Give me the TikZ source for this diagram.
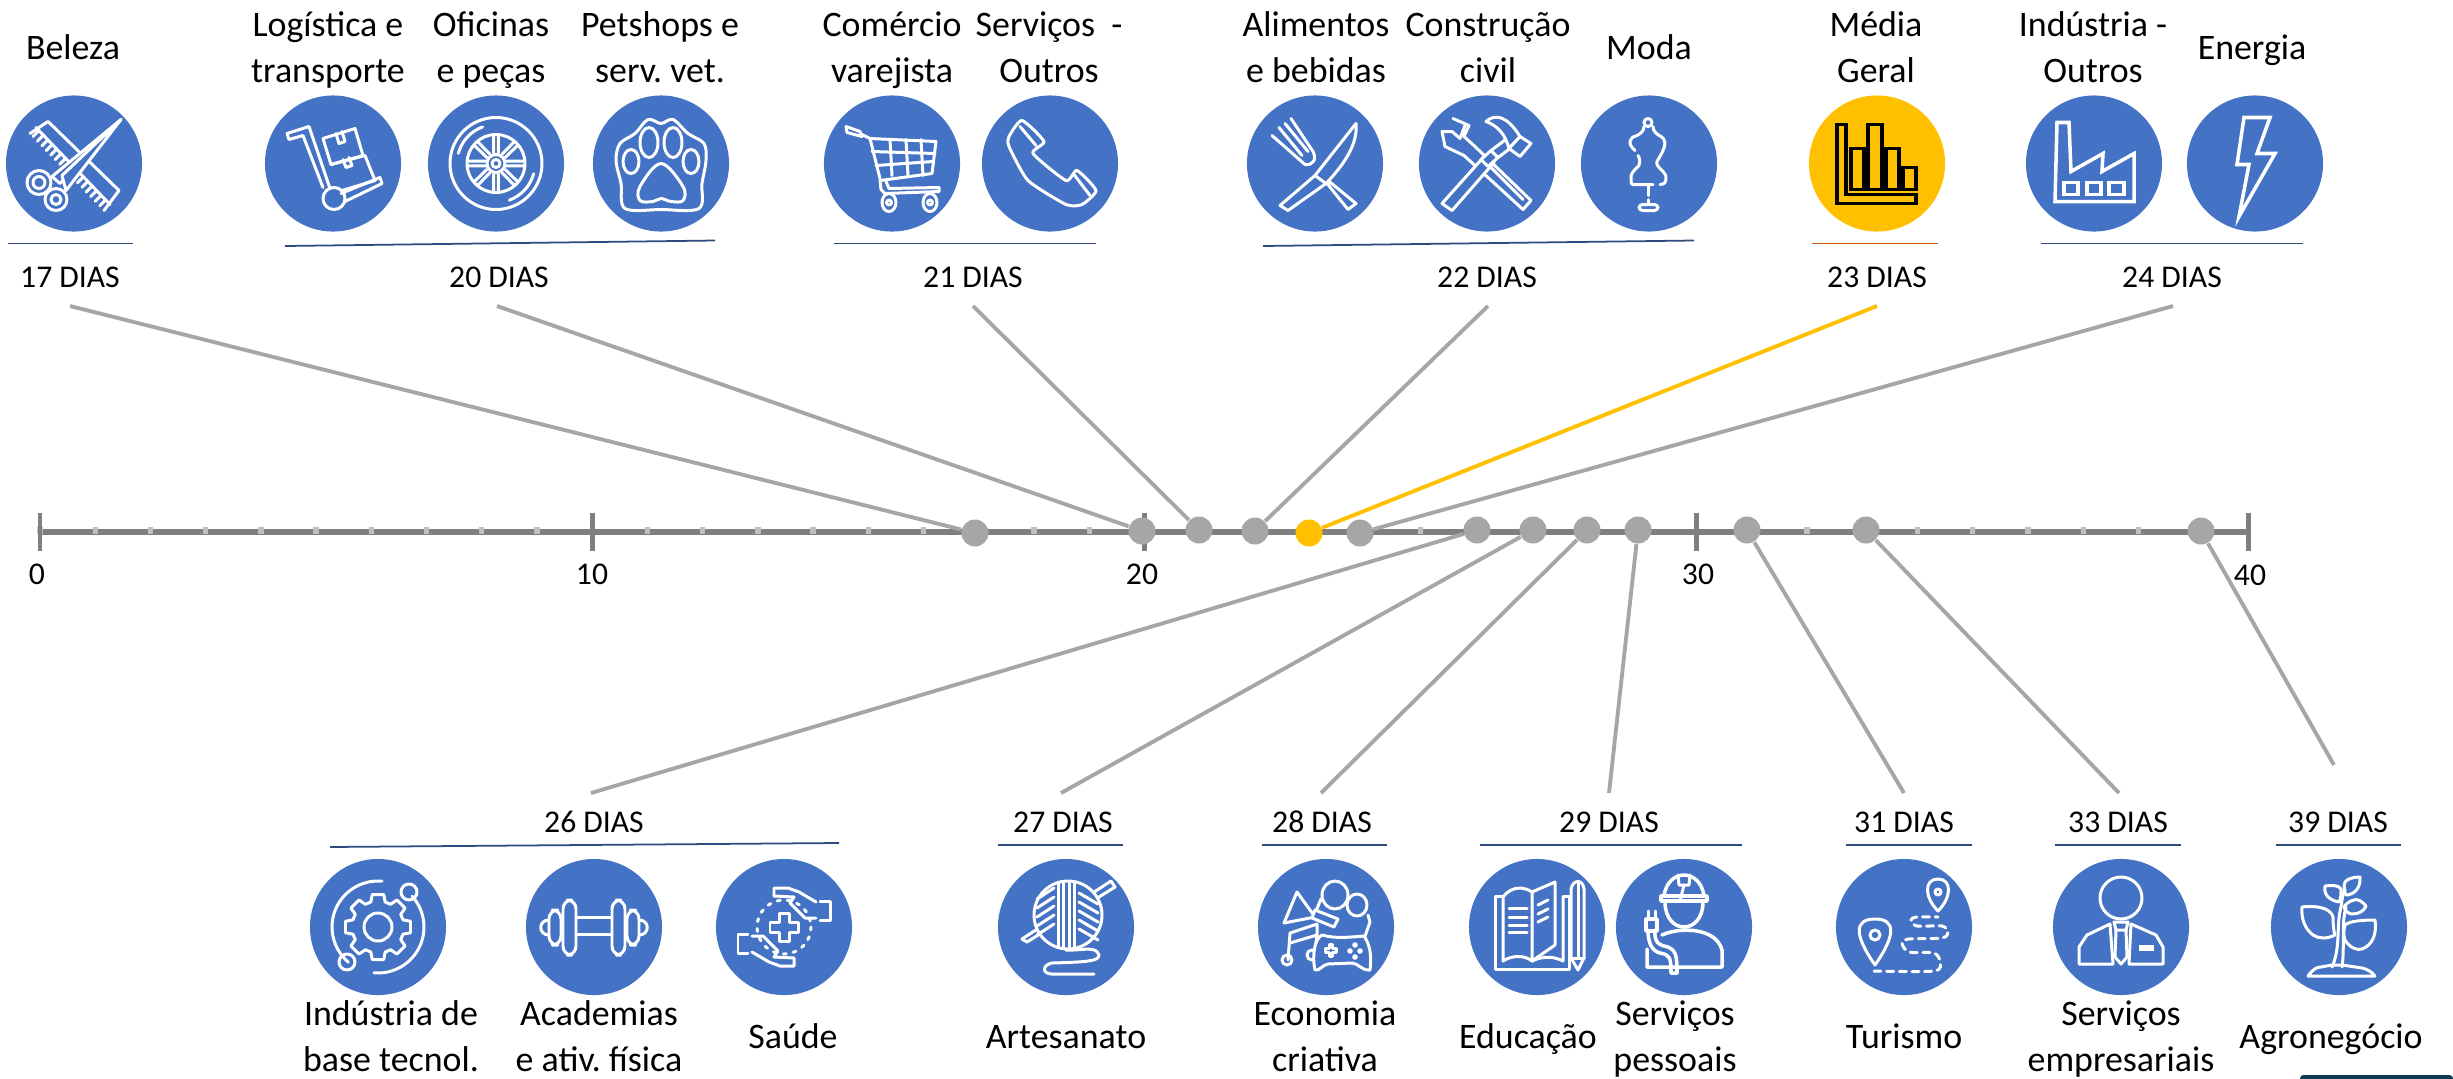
\documentclass[tikz,border=0pt]{standalone}
\usepackage{fontspec}
\setmainfont{Carlito}
\frenchspacing
\definecolor{iconblue}{HTML}{4472C4}
\definecolor{goldy}{HTML}{FFC000}
\definecolor{axisgrey}{HTML}{7F7F7F}
\definecolor{tickgrey}{HTML}{BFBFBF}
\definecolor{linkgrey}{HTML}{A6A6A6}
\definecolor{rulenavy}{HTML}{2F4A7C}
\definecolor{ruleorange}{HTML}{C55A11}
\definecolor{cornerteal}{HTML}{0F3B52}
\tikzset{
	icondisc/.style = {circle, fill = iconblue, minimum size = 1.36cm, inner sep = 0pt},
	dot/.style = {circle, fill = linkgrey, minimum size = 0.27cm, inner sep = 0pt},
	namelabel/.style = {align = center, inner sep = 0pt, font = \fontsize{10.2}{13}\selectfont},
	dayslabel/.style = {inner sep = 0pt, font = \fontsize{9}{11}\selectfont},
	ticklabel/.style = {inner sep = 0pt, font = \fontsize{9}{11}\selectfont},
	link/.style = {linkgrey, line width = 1.1pt},
	dayrule/.style = {rulenavy, line width = 0.5pt},
	icoline/.style = {white, line width = 0.85pt, line join = round, line cap = round},
	icofill/.style = {icoline, fill = iconblue},
	% icons, coordinates measured from the centre of the disc
	pics/comb/.style = {code = {
		\draw[icoline] (-44,-30) -- (-26,-42) -- (45,27) -- (30,47);
		\draw[icoline] (-38,-36) -- (36,41);
		\foreach \t in {0.04,0.1,...,1}
			\draw[icoline] ({-44+74*\t},{-30+77*\t}) -- ++(6,-6);
		\draw[icofill] (47,-44) -- (-22,13) -- (-14,20) -- cycle;
		\draw[icofill] (47,-44) -- (-12,12) -- (-8,27) -- cycle;
		\draw[icofill] (-35,19) circle (12);
		\draw[icoline] (-35,19) circle (6);
		\draw[icofill] (-18,36) circle (11);
		\draw[icoline] (-18,36) circle (5);
	}},
	pics/trolley/.style = {code = {
		\draw[icoline] (-46,-30) -- (-24,-37) -- (-3,25);
		\draw[icoline] (-46,-30) -- (-44,-24) -- (-30,-28) -- (-10,24);
		\draw[icoline] (-10,-25) -- (22,-35) -- (30,-8) -- (-2,1) -- cycle;
		\draw[icoline] (-2,1) -- (32,-8) -- (42,17) -- (9,27);
		\draw[icoline] (3,-30) -- (6,-20) -- (12,-22) -- (9,-32);
		\draw[icoline] (10,-4) -- (13,4) -- (19,2) -- (16,-6);
		\draw[icoline] (8,30) -- (47,14) -- (49,20) -- (12,38);
		\draw[icoline] (1,35) circle (11);
	}},
	pics/tyre/.style = {code = {
		\draw[icoline] (0,0) circle (46);
		\draw[icoline] (0,0) circle (29);
		\draw[icoline] (0,0) circle (9);
		\draw[icoline] (0,0) circle (4);
		\foreach \a in {0,45,...,315} {
			\draw[icoline] ({\a+12}:11) -- ({\a+5}:28);
			\draw[icoline] ({\a-12}:11) -- ({\a-5}:28);
		}
		\draw[icoline] (195:39) arc (195:250:39);
		\draw[icoline] (15:39) arc (15:70:39);
	}},
	pics/paw/.style = {code = {
		\draw[icoline] plot[smooth cycle, tension = 0.55] coordinates {(-36,45) (-40,20) (-45,-3) (-41,-20) (-26,-30) (-13,-44) (0,-40) (12,-44) (27,-30) (43,-20) (45,-3) (41,20) (38,45) (0,46)};
		\draw[icoline] (-30,-2) ellipse (8 and 12);
		\draw[icoline] (-12,-21) ellipse (9 and 15);
		\draw[icoline] (12,-21) ellipse (9 and 15);
		\draw[icoline] (30,-2) ellipse (8 and 12);
		\draw[icoline] plot[smooth cycle, tension = 0.6] coordinates {(0,0) (-21,23) (-21,37) (-8,38) (0,35) (10,38) (22,37) (22,23)};
	}},
	pics/cart/.style = {code = {
		\draw[icoline] (-46,-37) -- (-32,-32) -- (-30,-27) -- (-45,-31) -- cycle;
		\draw[icoline] (-30,-29) -- (-22,-25) -- (-12,15);
		\draw[icoline] (-22,-25) -- (44,-22) -- (40,10) -- (-12,17);
		\draw[icoline] (-20,-12) -- (43,-10);
		\draw[icoline] (-16,2) -- (41,-2);
		\foreach \x in {-2,14,29}
			\draw[icoline] (\x,-24) -- ({\x+2},12);
		\draw[icoline] (-12,17) -- (-11,26) -- (-7,30) -- (47,28) -- (47,24) -- (-3,25) -- (-6,18);
		\draw[icoline] (-3,39) ellipse (7 and 9);
		\draw[icoline] (-3,39) circle (2.5);
		\draw[icoline] (38,39) ellipse (7 and 9);
		\draw[icoline] (38,39) circle (2.5);
	}},
	pics/phone/.style = {code = {
		\draw[icoline] plot[smooth cycle, tension = 0.35] coordinates {(-41,-27) (-28,-43) (-6,-22) (-17,-10) (16,17) (27,7) (46,27) (32,41) (16,41) (-22,17) (-41,-17)};
		\draw[icoline] (-30,-37) -- (-14,-18);
		\draw[icoline] (24,11) -- (40,32);
	}},
	pics/cutlery/.style = {code = {
		\draw[icoline] (-24,-45) -- (-2,-12) .. controls (2,-4) and (-2,2) .. (-10,1) -- (-43,-28);
		\draw[icoline] (-36,-36) -- (-13,-8);
		\draw[icoline] (-30,-40) -- (-7,-12);
		\draw[icoline] (13,17) -- (41,40) -- (33,46) -- (4,10);
		\draw[icofill] (41,-40) -- (0,12) -- (-35,42) -- (-27,47) -- (11,20) .. controls (30,0) and (43,-20) .. (41,-40) -- cycle;
		\draw[icoline] (0,12) -- (11,20);
	}},
	pics/tools/.style = {code = {
		\draw[icoline] (-34,-45) -- (-18,-38) -- (-23,-27) -- (-12,-17) -- (44,37) -- (36,46) -- (-23,-8) -- (-42,-17) -- (-45,-32) -- (-35,-32) -- (-27,-25) -- (-22,-38);
		\draw[icoline] (0,0) -- (36,36);
		\draw[icofill] (-45,40) -- (-2,-8) -- (7,-1) -- (-35,47) -- cycle;
		\draw[icofill] (-6,-4) -- (4,-13) -- (11,-6) -- (1,3) -- cycle;
		\draw[icofill] (4,-13) -- (20,-25) -- (27,-18) -- (11,-6) -- cycle;
		\draw[icofill] (-1,-42) .. controls (8,-50) and (20,-48) .. (33,-27) -- (22,-15) .. controls (18,-30) and (10,-38) .. (-1,-42) -- cycle;
		\draw[icofill] (33,-27) -- (44,-20) -- (33,-7) -- (22,-15) -- cycle;
	}},
	pics/mannequin/.style = {code = {
		\draw[icoline] (-1,-41) circle (4);
		\draw[icoline] (-14,-13) .. controls (-22,-20) and (-20,-26) .. (-12,-28) .. controls (-8,-30) and (-5,-33) .. (-5,-37);
		\draw[icoline] (4,-37) .. controls (4,-32) and (8,-29) .. (12,-27) .. controls (20,-22) and (14,-12) .. (8,-2) .. controls (6,4) and (18,8) .. (17,15) .. controls (17,19) and (15,21) .. (11,21);
		\draw[icoline] (-11,-8) .. controls (-8,-4) and (-10,0) .. (-10,2) .. controls (-14,6) and (-19,10) .. (-18,15) .. controls (-18,21) and (-17,21) .. (-16,21) -- (4,21);
		\draw[icoline] (-1,22) -- (-1,32);
		\draw[icoline] (-1,36) -- (-1,41);
		\draw[icoline, rounded corners = 1pt] (-10,41) -- (9,41) -- (9,47) -- (-10,47) -- cycle;
	}},
	pics/barchart/.style = {code = {
		\begin{scope}[black, line width = 1.1pt]
		\draw (-40,-39) -- (-31,-39) -- (-31,31) -- (39,31) -- (39,40) -- (-40,40) -- cycle;
		\draw (-26,-15) rectangle (-13,26);
		\draw (-9,-39) rectangle (5,26);
		\draw (9,-15) rectangle (22,26);
		\draw (26,4) rectangle (39,26);
		\end{scope}
	}},
	pics/factory/.style = {code = {
		\begin{scope}[white, line width = 1pt]
		\draw (-39,38) -- (-37,-41) -- (-25,-41) -- (-23,8) -- (9,-10) -- (8,8) -- (40,-10) -- (40,38) -- cycle;
		\draw (-30,19) rectangle (-16,31);
		\draw (-7,19) rectangle (7,31);
		\draw (15,19) rectangle (30,31);
		\end{scope}
	}},
	pics/bolt/.style = {code = {
		\draw[white, line width = 1pt] (-11,-46) -- (15,-46) -- (2,-10) -- (20,-10) -- (-16,53) -- (-6,1) -- (-18,1) -- cycle;
	}},
	pics/gear/.style = {code = {
		\draw[icoline] (0,0) circle (14);
		\foreach \a in {0,45,...,315}
			\draw[icoline] ({\a-16}:26) -- ({\a-10}:33) -- ({\a+10}:33) -- ({\a+16}:26) -- ({\a+29}:26);
		\draw[icoline] (275:46) arc (275:130:46);
		\draw[icoline] (95:46) arc (95:-42:46);
		\draw[icoline] (31,-35) circle (8);
		\draw[icoline] (-31,35) circle (8);
	}},
	pics/dumbbell/.style = {code = {
		\draw[icoline, rounded corners = 2.5pt] (-31,-27) rectangle (-18,28);
		\draw[icoline, rounded corners = 2.5pt] (18,-27) rectangle (31,28);
		\draw[icoline, rounded corners = 2.5pt] (-45,-17) rectangle (-33,18);
		\draw[icoline, rounded corners = 2.5pt] (33,-17) rectangle (45,18);
		\draw[icoline] (-18,-10) -- (18,-10);
		\draw[icoline] (-18,7) -- (18,7);
		\draw[icoline] (-45,-7) .. controls (-56,-7) and (-56,8) .. (-45,8);
		\draw[icoline] (45,-7) .. controls (56,-7) and (56,8) .. (45,8);
	}},
	pics/carehands/.style = {code = {
		\draw[icoline] (-5,-14) -- (5,-14) -- (5,-5) -- (14,-5) -- (14,5) -- (5,5) -- (5,14) -- (-5,14) -- (-5,5) -- (-14,5) -- (-14,-5) -- (-5,-5) -- cycle;
		\draw[icoline, dotted] (0,0) circle (27);
		\foreach \r in {0,180} {
			\begin{scope}[rotate = \r]
			\draw[icoline] (-10,-31) -- (-10,-39) -- (4,-39) -- (15,-35) -- (32,-25);
			\draw[icoline] (-10,-31) -- (10,-30) -- (6,-24) -- (21,-9) -- (32,-9);
			\draw[icoline] (36,-26) -- (46,-26) -- (46,-7) -- (36,-7);
			\end{scope}
		}
	}},
	pics/yarn/.style = {code = {
		\draw[icoline] (45,-46) -- (49,-40) -- (-39,15) -- (-44,12) -- cycle;
		\draw[icofill] (2,-12) circle (34);
		\foreach \x in {-8,-3,3,8}
			\draw[icoline] (\x,-44) -- (\x,20);
		\foreach \y in {-30,-21,-12,-3,6} {
			\draw[icoline] (-29,{\y+2}) -- (-12,{\y-9});
			\draw[icoline] (13,{\y-4}) -- (32,{\y+7});
		}
		\draw[icoline] (0,23) .. controls (15,24) and (30,18) .. (33,28) .. controls (33,34) and (22,35) .. (-14,36) .. controls (-24,38) and (-24,47) .. (-14,47) -- (28,47);
	}},
	pics/mediakit/.style = {code = {
		\draw[icoline] (9,-32) ellipse (13 and 14);
		\draw[icoline] (31,-22) ellipse (10 and 11);
		\draw[icoline] (-42,-4) -- (-29,-35) -- (-11,-10) -- cycle;
		\draw[icoline] (-10,-16) -- (-5,-28);
		\draw[icoline] (42,-12) -- (44,-5) -- (38,12);
		\draw[icofill] (-11,-17) -- (12,-8) -- (8,0) -- (-14,-9) -- cycle;
		\draw[icoline] (-38,33) -- (-36,6) -- (-9,-3) -- (-9,8) -- (-36,16);
		\draw[icoline] (-39,33) circle (5);
		\draw[icoline] (-14,28) circle (5);
		\draw[icoline] (-9,8) -- (-11,24);
		\draw[icofill] (-4,8) .. controls (10,12) and (25,10) .. (38,9) .. controls (46,20) and (45,35) .. (44,43) .. controls (36,44) and (32,36) .. (26,36) -- (2,37) .. controls (-4,38) and (-6,44) .. (-11,43) .. controls (-14,30) and (-12,12) .. (-4,8) -- cycle;
		\draw[icoline] (-1,21) -- (3,21) -- (3,17) -- (6,17) -- (6,21) -- (10,21) -- (10,25) -- (6,25) -- (6,29) -- (3,29) -- (3,25) -- (-1,25) -- cycle;
		\draw[icoline, fill = white] (29,18) circle (1.5);
		\draw[icoline, fill = white] (24,24) circle (1.5);
		\draw[icoline, fill = white] (34,24) circle (1.5);
		\draw[icoline, fill = white] (29,30) circle (1.5);
	}},
	pics/openbook/.style = {code = {
		\draw[icoline] (-34,-31) -- (-42,-31) -- (-42,42) -- (32,42) -- (32,-31) -- (26,-31);
		\draw[icoline] (-34,34) -- (-34,-30) .. controls (-25,-42) and (-12,-40) .. (-5,-35) -- (-5,34) .. controls (-12,28) and (-25,28) .. (-34,34) -- cycle;
		\draw[icoline] (-5,-35) -- (18,-45) -- (18,18) -- (-5,34);
		\draw[icoline] (-5,34) .. controls (8,28) and (18,30) .. (26,34) -- (26,-30);
		\foreach \y in {-19,-10,-2,5}
			\draw[icoline] (-28,\y) -- (-10,\y);
		\foreach \y in {-22,-13,-5}
			\draw[icoline] (1,\y) -- (11,{\y-5});
		\draw[icofill] (34,-38) .. controls (36,-48) and (46,-48) .. (47,-38) -- (47,31) -- (41,43) -- (34,31) -- cycle;
		\draw[icoline] (34,31) -- (47,31);
		\draw[icoline] (41,-44) -- (41,30);
	}},
	pics/worker/.style = {code = {
		\draw[icoline, line width = 1pt] (-20,-31) .. controls (-18,-46) and (-8,-52) .. (0,-52) .. controls (8,-52) and (18,-46) .. (20,-31);
		\draw[icoline, line width = 1pt] (-23,-31) -- (23,-31) -- (23,-26) -- (-23,-26) -- cycle;
		\draw[icoline] (-6,-52) -- (-5,-42) -- (5,-42) -- (6,-52);
		\draw[icoline] (0,-42) -- (-4,-26);
		\draw[icoline, line width = 1pt] (-19,-25) .. controls (-19,-8) and (-9,0) .. (0,0) .. controls (9,0) and (19,-8) .. (19,-25);
		\draw[icoline, line width = 1pt] (-22,8) .. controls (-5,0) and (32,0) .. (38,23) -- (38,40) -- (-37,40) -- (-37,22);
		\draw[icoline, line width = 1pt] (-29,3) .. controls (-30,16) and (-25,18) .. (-16,20) .. controls (-8,24) and (-7,28) .. (-7,46) -- (-13,46) .. controls (-13,30) and (-14,28) .. (-24,26) .. controls (-32,24) and (-36,16) .. (-36,3);
		\draw[icoline, line width = 1pt] (-38,-8) -- (-38,4) -- (-27,4) -- (-27,-8) -- cycle;
		\draw[icoline] (-36,-8) -- (-36,-16);
		\draw[icoline] (-29,-8) -- (-29,-16);
	}},
	pics/route/.style = {code = {
		\draw[icoline] (-29,38) .. controls (-50,8) and (-50,-8) .. (-29,-8) .. controls (-8,-8) and (-8,8) .. (-29,38) -- cycle;
		\draw[icoline] (-29,8) circle (5);
		\draw[icoline] (34,-16) .. controls (20,-30) and (20,-48) .. (34,-48) .. controls (48,-48) and (48,-30) .. (34,-16) -- cycle;
		\draw[icoline] (34,-35) circle (3);
		\draw[icoline, dashed, dash pattern = on 2pt off 1.6pt] plot[smooth, tension = 0.5] coordinates {(-30,44) (30,44) (36,35) (30,26) (5,25) (-2,16) (5,12) (38,11) (44,5) (38,-1) (13,-1) (7,-7) (13,-10) (34,-10)};
	}},
	pics/suit/.style = {code = {
		\draw[icoline] (0,-29) circle (21);
		\draw[icoline] (-11,-3) -- (-34,8) -- (-42,20) -- (-42,37) -- (-8,37) -- cycle;
		\draw[icoline] (10,-3) -- (35,8) -- (42,20) -- (42,37) -- (8,37) -- cycle;
		\draw[icoline] (-7,-5) -- (7,-5) -- (5,3) -- (-5,3) -- cycle;
		\draw[icoline] (-5,3) -- (-6,30) -- (0,37) -- (6,30) -- (5,3);
		\fill[white] (18,18) rectangle (33,24);
	}},
	pics/sprout/.style = {code = {
		\draw[icoline] (-7,40) .. controls (2,20) and (-3,-2) .. (2,-20) .. controls (3,-28) and (4,-34) .. (6,-38);
		\draw[icoline] (3,40) .. controls (6,20) and (2,-2) .. (7,-20);
		\draw[icoline] (-37,-20) .. controls (-20,-22) and (-8,-18) .. (-6,-10) .. controls (-6,-2) and (-5,6) .. (-4,8) .. controls (-12,12) and (-20,12) .. (-26,8) .. controls (-34,2) and (-38,-8) .. (-37,-20) -- cycle;
		\draw[icoline] (36,-7) .. controls (24,-7) and (10,-6) .. (6,-2) .. controls (4,6) and (5,10) .. (6,13) .. controls (10,20) and (18,24) .. (23,22) .. controls (34,18) and (38,6) .. (36,-7) -- cycle;
		\draw[icoline] (-14,-41) .. controls (-8,-42) and (0,-42) .. (2,-38) .. controls (2,-34) and (2,-28) .. (0,-25) .. controls (-6,-26) and (-16,-30) .. (-14,-41) -- cycle;
		\draw[icoline] (21,-50) .. controls (14,-50) and (8,-48) .. (6,-45) .. controls (4,-40) and (6,-34) .. (7,-32) .. controls (12,-32) and (22,-36) .. (21,-50) -- cycle;
		\draw[icoline] (27,-21) .. controls (22,-27) and (18,-28) .. (15,-27) .. controls (10,-26) and (6,-22) .. (5,-20) .. controls (6,-16) and (10,-13) .. (13,-13) .. controls (20,-13) and (25,-16) .. (27,-21) -- cycle;
		\draw[icoline] (-31,49) .. controls (-26,42) and (-22,40) .. (-18,40) -- (-7,38) -- (3,38) -- (23,41) .. controls (28,42) and (33,45) .. (36,49) -- cycle;
	}}
}
\begin{document}
\begin{tikzpicture}[x = 0.01cm, y = -0.01cm]
	\useasboundingbox (0,0) rectangle (2453,1078);
	% axis
	\draw[axisgrey, line width = 1.7pt] (40,532) -- (2249,532);
	\foreach \t in {0,1,...,40}
		\draw[tickgrey, line width = 1.5pt] ({40+55.22*\t},527) -- ({40+55.22*\t},534);
	\foreach \t in {0,10,...,40}
		\draw[axisgrey, line width = 1.4pt] ({40+55.22*\t},513) -- ({40+55.22*\t},551);
	\node[ticklabel] (n0) at (37,574) {0};
	\node[ticklabel] (n10) at (592,574) {10};
	\node[ticklabel] (n20) at (1142,574) {20};
	\node[ticklabel] (n30) at (1698,574) {30};
	\node[ticklabel] (n40) at (2250,575) {40};
	% day markers
	\node[dot] (d17) at (975,533) {};
	\node[dot] (d20) at (1142,531) {};
	\node[dot] (d21) at (1199,530) {};
	\node[dot] (d22) at (1255,531) {};
	\node[dot, fill = goldy] (d23) at (1309,533) {};
	\node[dot] (d24) at (1360,533) {};
	\node[dot] (d26) at (1477,530) {};
	\node[dot] (d27) at (1533,530) {};
	\node[dot] (d28) at (1587,530) {};
	\node[dot] (d29) at (1638,530) {};
	\node[dot] (d31) at (1747,530) {};
	\node[dot] (d33) at (1866,530) {};
	\node[dot] (d39) at (2201,531) {};
	% free ends of the links
	\coordinate (c17) at (70,306);
	\coordinate (c20) at (497,306);
	\coordinate (c21) at (973,306);
	\coordinate (c22) at (1488,306);
	\coordinate (c23) at (1877,306);
	\coordinate (c24) at (2173,306);
	\coordinate (c26) at (591,793);
	\coordinate (c27) at (1061,793);
	\coordinate (c28) at (1321,793);
	\coordinate (c29) at (1609,793);
	\coordinate (c31) at (1904,793);
	\coordinate (c33) at (2119,793);
	\coordinate (c39) at (2334,765);
	\foreach \k in {17,20,21,22,24,26,27,28,29,31,33,39}
		\draw[link] (c\k) -- (d\k);
	\draw[goldy, line width = 1.1pt] (c23) -- (d23);
	% top row
	\node[icondisc] (beleza) at (74,163.5) {};
	\node[icondisc] (logistica) at (333,163.5) {};
	\node[icondisc] (oficinas) at (496,163.5) {};
	\node[icondisc] (petshops) at (661,163.5) {};
	\node[icondisc] (comercio) at (892,163.5) {};
	\node[icondisc] (servicos) at (1050,163.5) {};
	\node[icondisc] (alimentos) at (1315,163.5) {};
	\node[icondisc] (construcao) at (1487,163.5) {};
	\node[icondisc] (moda) at (1649,163.5) {};
	\node[icondisc, fill = goldy] (media) at (1877,163.5) {};
	\node[icondisc] (industria) at (2094,163.5) {};
	\node[icondisc] (energia) at (2255,163.5) {};
	\pic at (beleza) {comb};
	\pic at (logistica) {trolley};
	\pic at (oficinas) {tyre};
	\pic at (petshops) {paw};
	\pic at (comercio) {cart};
	\pic at (servicos) {phone};
	\pic at (alimentos) {cutlery};
	\pic at (construcao) {tools};
	\pic at (moda) {mannequin};
	\pic at (media) {barchart};
	\pic at (industria) {factory};
	\pic at (energia) {bolt};
	\node[namelabel] (tbeleza) at (73,50) {\strut Beleza};
	\node[namelabel] (tlogistica) at (328,50) {\strut Logística e\\\strut transporte};
	\node[namelabel] (toficinas) at (491,50) {\strut Oficinas\\\strut e peças};
	\node[namelabel] (tpetshops) at (660,50) {\strut Petshops e\\\strut serv. vet.};
	\node[namelabel] (tcomercio) at (892,50) {\strut Comércio\\\strut varejista};
	\node[namelabel] (tservicos) at (1049,50) {\strut Serviços~~-\\\strut Outros};
	\node[namelabel] (talimentos) at (1316,50) {\strut Alimentos\\\strut e bebidas};
	\node[namelabel] (tconstrucao) at (1488,50) {\strut Construção\\\strut civil};
	\node[namelabel] (tmoda) at (1649,50) {\strut Moda};
	\node[namelabel] (tmedia) at (1876,50) {\strut Média\\\strut Geral};
	\node[namelabel] (tindustria) at (2093,50) {\strut Indústria -\\\strut Outros};
	\node[namelabel] (tenergia) at (2252,50) {\strut Energia};
	\draw[dayrule] (8,243.5) -- (133,243.5);
	\draw[dayrule] (285,246) -- (715,240.5);
	\draw[dayrule] (834,243.5) -- (1096,243.5);
	\draw[dayrule] (1263,246) -- (1694,240.5);
	\draw[dayrule, ruleorange] (1812,243.5) -- (1938,243.5);
	\draw[dayrule] (2041,243.5) -- (2303,243.5);
	\node[dayslabel] (l17) at (70,277) {17 DIAS};
	\node[dayslabel] (l20) at (499,277) {20 DIAS};
	\node[dayslabel] (l21) at (973,277) {21 DIAS};
	\node[dayslabel] (l22) at (1487,277) {22 DIAS};
	\node[dayslabel] (l23) at (1877,277) {23 DIAS};
	\node[dayslabel] (l24) at (2172,277) {24 DIAS};
	% bottom row
	\node[dayslabel] (l26) at (594,822) {26 DIAS};
	\node[dayslabel] (l27) at (1063,822) {27 DIAS};
	\node[dayslabel] (l28) at (1322,822) {28 DIAS};
	\node[dayslabel] (l29) at (1609,822) {29 DIAS};
	\node[dayslabel] (l31) at (1904,822) {31 DIAS};
	\node[dayslabel] (l33) at (2118,822) {33 DIAS};
	\node[dayslabel] (l39) at (2338,822) {39 DIAS};
	\draw[dayrule] (330,847) -- (839,843);
	\draw[dayrule] (998,845) -- (1123,845);
	\draw[dayrule] (1262,845) -- (1387,845);
	\draw[dayrule] (1480,845) -- (1742,845);
	\draw[dayrule] (1846,845) -- (1972,845);
	\draw[dayrule] (2055,845) -- (2181,845);
	\draw[dayrule] (2276,845) -- (2401,845);
	\node[icondisc] (basetec) at (378,927) {};
	\node[icondisc] (academias) at (594,927) {};
	\node[icondisc] (saude) at (784,927) {};
	\node[icondisc] (artesanato) at (1066,927) {};
	\node[icondisc] (economia) at (1326,927) {};
	\node[icondisc] (educacao) at (1537,927) {};
	\node[icondisc] (pessoais) at (1684,927) {};
	\node[icondisc] (turismo) at (1904,927) {};
	\node[icondisc] (empresariais) at (2121,927) {};
	\node[icondisc] (agronegocio) at (2339,927) {};
	\pic at (basetec) {gear};
	\pic at (academias) {dumbbell};
	\pic at (saude) {carehands};
	\pic at (artesanato) {yarn};
	\pic at (economia) {mediakit};
	\pic at (educacao) {openbook};
	\pic at (pessoais) {worker};
	\pic at (turismo) {route};
	\pic at (empresariais) {suit};
	\pic at (agronegocio) {sprout};
	\node[namelabel] (tbasetec) at (391,1039) {\strut Indústria de\\\strut base tecnol.};
	\node[namelabel] (tacademias) at (599,1039) {\strut Academias\\\strut e ativ. física};
	\node[namelabel] (tsaude) at (793,1039) {\strut Saúde};
	\node[namelabel] (tartesanato) at (1066,1039) {\strut Artesanato};
	\node[namelabel] (teconomia) at (1325,1039) {\strut Economia\\\strut criativa};
	\node[namelabel] (teducacao) at (1528,1039) {\strut Educação};
	\node[namelabel] (tpessoais) at (1675,1039) {\strut Serviços\\\strut pessoais};
	\node[namelabel] (tturismo) at (1904,1039) {\strut Turismo};
	\node[namelabel] (tempresariais) at (2121,1039) {\strut Serviços\\\strut empresariais};
	\node[namelabel] (tagronegocio) at (2331,1039) {\strut Agronegócio};
	\fill[cornerteal, rounded corners = 1pt] (2300,1075) rectangle (2453,1082);
\end{tikzpicture}
\end{document}
